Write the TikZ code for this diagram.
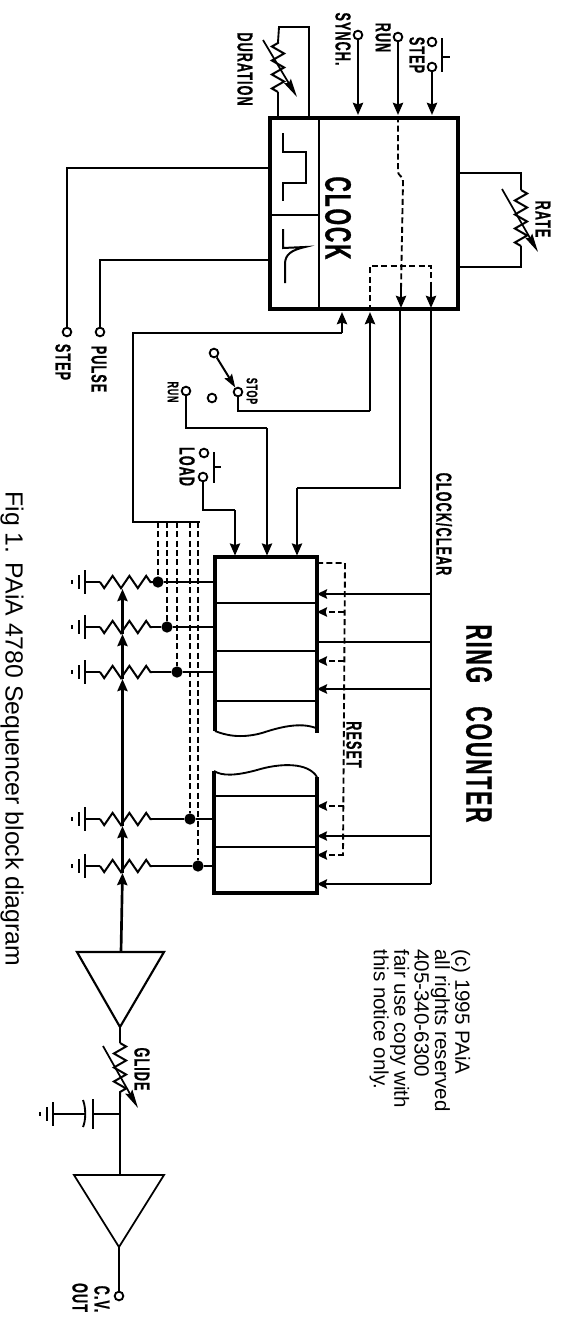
\documentclass[tikz,border=0pt]{standalone}
\usepackage{fontspec}
\setmainfont{Liberation Sans}
\newfontfamily\tagfont[FakeStretch=0.58,LetterSpace=5,FakeBold=0.7]{Liberation Sans}
\usetikzlibrary{arrows.meta,decorations.pathmorphing}

\begin{document}
\begin{tikzpicture}[
  x=0.75pt, y=-0.75pt,
  wire/.style={line width=1.1pt, line join=miter},
  heavy/.style={line width=2pt, line join=miter},
  sig/.style={heavy, -{Stealth[length=9pt,width=7.5pt,inset=1pt]}, shorten >=1pt},
  dashln/.style={line width=1.4pt, dash pattern=on 4.5pt off 2.5pt},
  dashsig/.style={dashln, -{Stealth[length=7.5pt,width=7pt,inset=1pt]}},
  box/.style={draw, line width=2.5pt, line join=miter, inner sep=0pt},
  zigh/.style={line width=1.5pt, line join=miter, decorate, decoration={zigzag, mirror, segment length=12.6pt, amplitude=4.6pt}},
  zigv/.style={line width=1.5pt, line join=miter, decorate, decoration={zigzag, segment length=10.5pt, amplitude=4.6pt}},
  slash/.style={line width=1.3pt, -{Stealth[length=14pt,width=6pt,inset=2pt]}},
  term/.style={circle, draw, fill=white, line width=1.4pt, inner sep=0pt, minimum size=6.5pt},
  jdot/.style={circle, fill=black, inner sep=0pt, minimum size=8.5pt},
  tag/.style={rotate=-90, inner sep=0pt, font=\tagfont\bfseries\fontsize{16.3}{18}\selectfont},
  tagsmall/.style={tag, font=\tagfont\bfseries\fontsize{11.5}{13}\selectfont},
  tagbig/.style={tag, font=\tagfont\bfseries\fontsize{27.5}{30}\selectfont},
  note/.style={rotate=-90, inner sep=0pt, align=left},
  earth/.pic={
    \draw[line width=1.5pt] (0,-12) -- (0,12);
    \draw[line width=1.3pt] (-6,-7) -- (-6,7);
    \draw[line width=1.3pt] (-13,-2) -- (-13,2);
  },
]
  \useasboundingbox (0,0) rectangle (567,1329);

  % clock
  \node[box, minimum width=141pt, minimum height=143.25pt] (clock) at (364,213.5) {};
  \node[tagbig] (clocktag) at (338,218) {CLOCK};
  \draw[wire, line width=1.5pt] (319,118) -- (319,309);
  \draw[wire, line width=1.5pt] (270,215) -- (319,215);
  \draw[heavy, line width=1.5pt] (283,133) -- (283,152) -- (306,152) -- (306,183) -- (283,183) -- (283,201);
  \draw[heavy, line width=1.5pt] (283,229) -- (283,248) -- (305,247) .. controls (292,250) and (285,254) .. (285,264) -- (285,283);

  % duration and rate
  \coordinate (dura) at (278,92);
  \coordinate (durb) at (278,42);
  \coordinate (durc) at (279,27);
  \coordinate (durd) at (309,27);
  \draw[wire, line width=1.4pt] (clock.north -| dura) -- (dura);
  \draw[zigv] (dura) -- (durb);
  \draw[wire, line width=1.4pt] (durb) -- (durc) -- (durd) -- (clock.north -| durd);
  \draw[slash] (263,40) -- (297,97);
  \node[tag] (durtag) at (245,69) {DURATION};

  \coordinate (ratea) at (521,173);
  \coordinate (rateb) at (521,190);
  \coordinate (ratec) at (521,246);
  \coordinate (rated) at (521,267);
  \draw[wire] (clock.east |- ratea) -- (ratea) -- (rateb);
  \draw[zigv] (rateb) -- (ratec);
  \draw[wire] (ratec) -- (rated) -- (clock.east |- rated);
  \draw[slash] (502,189) -- (538,252);
  \node[tag] (ratetag) at (543,219) {RATE};

  % front panel inputs
  \node[term] (synch) at (358,35) {};
  \node[term] (run) at (398,37) {};
  \node[term] (stepa) at (432,42) {};
  \node[term] (stepb) at (432,67) {};
  \draw[sig] (synch) -- (synch |- clock.north);
  \draw[sig] (run) -- (run |- clock.north);
  \draw[sig] (stepb) -- (stepb |- clock.north);
  \draw[wire, line width=1.5pt] (442,38) -- (442,72) (442,57) -- (450,57);
  \node[tag] (synchtag) at (343,39) {SYNCH.};
  \node[tag] (runtag) at (383,37.5) {RUN};
  \node[tag] (steptag) at (417,55) {STEP};

  % clock outputs
  \coordinate (clka) at (342,333);
  \coordinate (clkb) at (370,411);
  \coordinate (clkc) at (400,488);
  \coordinate (clkd) at (431,884);
  \draw[dashln] (run |- clock.north) -- (398,170) .. controls (398,178) and (403,174) .. (403,182) -- (401,290);
  \draw[dashln] (clkb |- clock.south) -- (370,266) -- (431,266) -- (431,290);
  \draw[heavy, -{Stealth[length=9pt,width=7.5pt,inset=1pt]}] (401,288) -- (401,308);
  \draw[heavy, -{Stealth[length=9pt,width=7.5pt,inset=1pt]}] (431,288) -- (431,308);
  \draw[heavy] (clkc |- clock.south) -- (clkc) -- (297,488);
  \draw[heavy] (clkd |- clock.south) -- (clkd);
  \node[tag] (clocklabel) at (444,524) {CLOCK/CLEAR};

  % step and pulse outs
  \node[term] (stepout) at (67,332) {};
  \node[term] (pulseout) at (100,332) {};
  \draw[wire] (clock.west |- 0,168) -- (stepout |- 0,168) -- (stepout);
  \draw[wire, line width=1.5pt] (clock.west |- 0,260) -- (pulseout |- 0,260) -- (pulseout);
  \node[tag] (stepouttag) at (63,362) {STEP};
  \node[tag] (pulsetag) at (99,369) {PULSE};

  % run/stop switch and load
  \node[term] (swarm) at (214,353) {};
  \node[term] (swstop) at (238,392) {};
  \node[term] (swfree) at (212,398) {};
  \node[term] (swrun) at (186,391) {};
  \node[term] (loada) at (204,453) {};
  \node[term] (loadb) at (203,477) {};
  \draw[wire, line width=1.5pt, -{Stealth[length=10pt,width=6.5pt,inset=1.5pt]}] (swarm) -- (swstop);
  \draw[wire, line width=1.5pt] (214,452) -- (214,483) (214,467) -- (221,467);
  \node[tagsmall] (stoptag) at (252,391) {STOP};
  \node[tagsmall] (runsmall) at (173,392) {RUN};
  \node[tag] (loadtag) at (187,466.5) {LOAD};

  % ring counter
  \coordinate (regtop) at (266,557);
  \coordinate (regleft) at (215,700);
  \coordinate (regright) at (317,700);
  \coordinate (runbend) at (267,428);
  \coordinate (loadbend) at (235,510);
  \coordinate (clearbend) at (297,488);
  \coordinate (stopbend) at (238,411);
  \coordinate (fanl) at (133,333);
  \coordinate (fanm) at (133,522);
  \coordinate (fanr) at (200,522);
  \draw[box, fill=none] (215,731) -- (215,557) -- (317,557) -- (317,733);
  \draw[wire, line width=1.4pt] (215,731) .. controls (225,735) and (240,739) .. (262,733) .. controls (280,727) and (300,722) .. (316,728);
  \draw[box, fill=none] (214,771) -- (214,893) -- (317,893) -- (317,777);
  \draw[wire, line width=1.4pt] (214,771) .. controls (222,776) and (235,776) .. (257,770) .. controls (280,763) and (308,762) .. (317,777);
  \draw[heavy] (215,603) -- (317,603);
  \draw[heavy] (215,651) -- (317,651);
  \draw[heavy] (215,701) -- (317,701);
  \draw[wire] (214,796) -- (317,796);
  \draw[heavy] (214,847) -- (317,847);
  \node[tagbig] (ringtag) at (479,723.5) {RING\ \ \ COUNTER};

  \draw[sig] (clka) -- (clka |- clock.south);
  \draw[sig] (clkb) -- (clkb |- clock.south);
  \draw[heavy] (clkb) -- (stopbend) -- (swstop);
  \draw[heavy] (clka) -- (fanl) -- (fanm) -- (fanr);
  \draw[heavy] (swrun) |- (runbend);
  \draw[sig] (runbend) -- (runbend |- regtop);
  \draw[heavy] (loadb) |- (loadbend);
  \draw[sig] (loadbend) -- (loadbend |- regtop);
  \draw[sig] (clearbend) -- (clearbend |- regtop);

  % stage inputs, clock and reset
  \foreach \ypos/\lw in {594/2pt,689/2pt,836/1pt,884/1.5pt}
    \draw[line width=\lw, -{Stealth[length=7.5pt,width=7pt,inset=1pt]}] (clkd |- 0,\ypos) -- (regright |- 0,\ypos);
  \draw[wire] (clkd |- 0,642) -- (regright |- 0,642);
  \coordinate (rsta) at (345,563);
  \coordinate (rstb) at (343,855);
  \draw[dashln] (regright |- rsta) -- (rsta) -- (rstb);
  \foreach \ypos in {612,661,806,855}
    \draw[dashsig] (344,\ypos) -- (regright |- 0,\ypos);
  \node[tag] (resettag) at (354,744.5) {RESET};

  % stage pots
  \foreach \pot/\ypos/\xdot/\lw in {a/582/158/1pt,b/627/167/1pt,c/672/177/1pt,d/819/190/2pt,e/866/198/2pt} {
    \coordinate (gnd\pot) at (85,\ypos);
    \coordinate (resl\pot) at (100,\ypos);
    \coordinate (resr\pot) at (152,\ypos);
    \coordinate (wip\pot) at (122.5,\ypos+7);
    \node[jdot] (dot\pot) at (\xdot,\ypos) {};
    \draw[wire] (gnd\pot) -- (resl\pot);
    \pic at (gnd\pot) {earth};
    \draw[zigh] (resl\pot) -- (resr\pot);
    \draw[line width=\lw] (resr\pot) -- (dot\pot) -- (dot\pot -| regleft);
    \draw[dashln] (dot\pot |- fanr) -- (dot\pot);
  }

  % cv bus and output stages
  \coordinate (ampain) at (121,952);
  \coordinate (ampaout) at (120,1027);
  \coordinate (ampbin) at (120,1175);
  \coordinate (ampbout) at (119,1247);
  \coordinate (glidea) at (120,1043);
  \coordinate (glideb) at (120,1097);
  \coordinate (capnode) at (120,1114);
  \coordinate (captop) at (93,1114);
  \coordinate (capgnd) at (53,1114);
  \draw[sig, shorten >=0pt] (ampain) -- (wipe);
  \draw[sig, shorten >=0pt] (wipe) -- (wipd);
  \draw[sig, shorten >=0pt] (wipd) -- (wipc);
  \draw[sig, shorten >=0pt] (wipc) -- (wipb);
  \draw[sig, shorten >=0pt] (wipb) -- (wipa);
  \draw[heavy, line width=1.6pt] (77,952) -- (164,952) -- (ampaout) -- cycle;
  \draw[wire, line width=1.3pt] (74,1175) -- (164,1175) -- (ampbout) -- cycle;
  \draw[wire, line width=1.3pt] (ampaout) -- (glidea);
  \draw[zigv] (glidea) -- (glideb);
  \draw[wire, line width=1.3pt] (glideb) -- (ampbin);
  \draw[slash] (103,1046) -- (138,1108);
  \node[tag] (glidetag) at (142,1069) {GLIDE};

  \draw[wire, line width=1.5pt] (capnode) -- (captop);
  \draw[heavy] (93,1099) -- (93,1129);
  \draw[wire, line width=1.4pt] (83,1100) .. controls (86,1108) and (86,1120) .. (83,1127);
  \draw[wire, line width=1.5pt] (85,1114) -- (capgnd);
  \pic at (capgnd) {earth};

  \node[term] (cvout) at (119,1296) {};
  \draw[heavy] (ampbout) -- (cvout);
  \node[tag] (cvtag) at (102,1299) {C.V.};
  \node[tag] (outtag) at (80,1297.5) {OUT};

  % captions
  \node[note, font=\fontsize{18.6}{20}\selectfont] (caption) at (12,729) {Fig 1. PAiA 4780 Sequencer block diagram};
  \node[note, font=\fontsize{15.4}{15.3}\selectfont] (notice) at (420,1030.5)
    {(c) 1995 PAiA\\ all rights reserved\\ 405-340-6300\\ fair use copy with\\ this notice only.};
\end{tikzpicture}
\end{document}
